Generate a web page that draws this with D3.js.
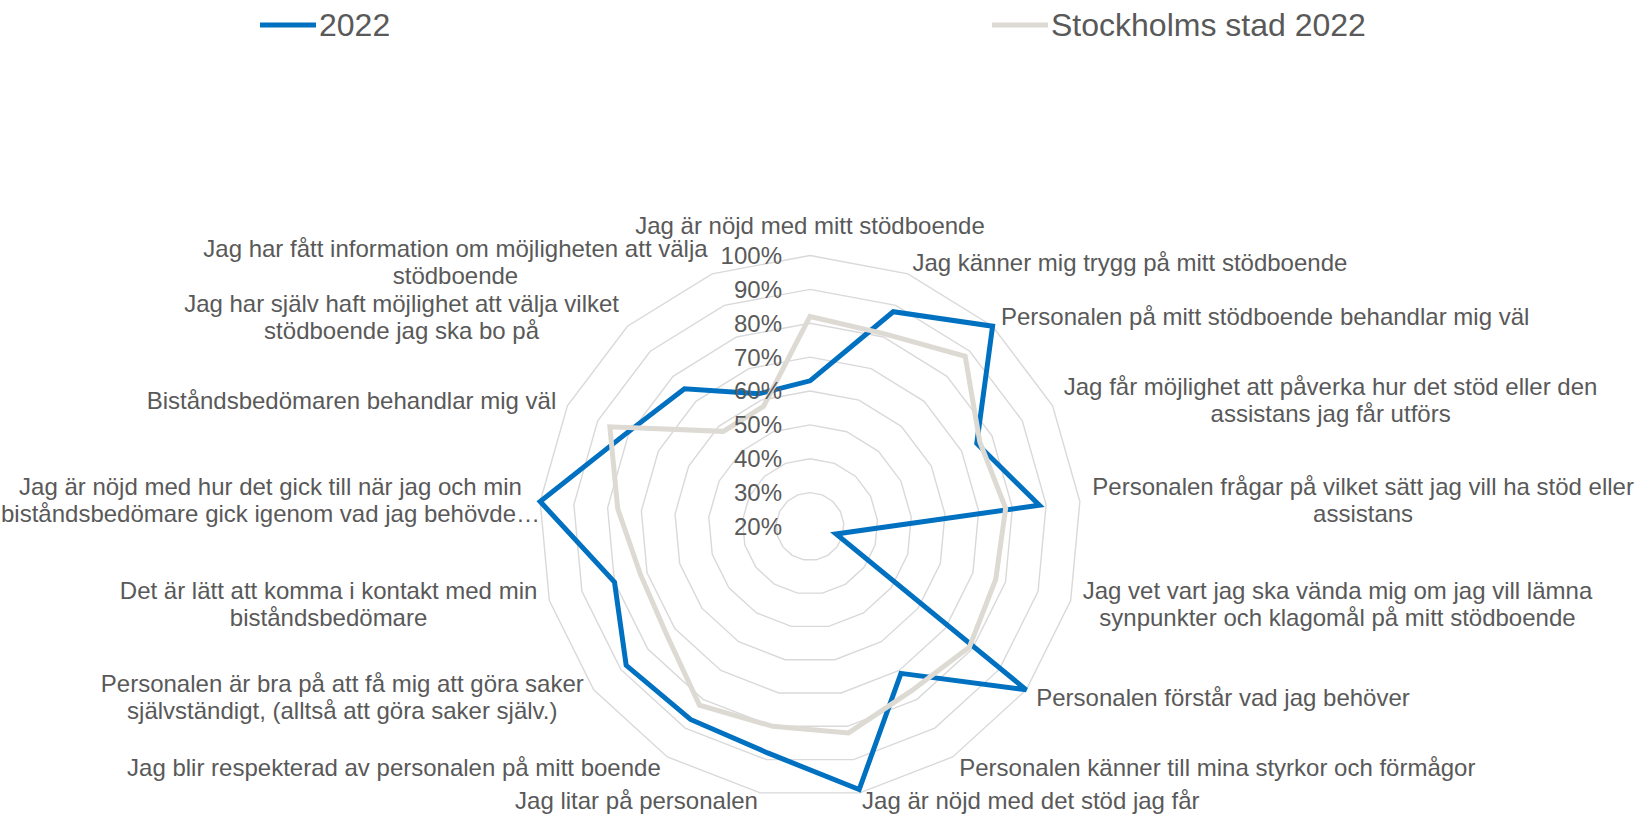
<!DOCTYPE html>
<html>
<head>
<meta charset="utf-8">
<script src="https://cdn.jsdelivr.net/npm/d3@7"></script>
<style>
  body { margin: 0; background: #fff; }
  svg text { font-family: "Liberation Sans", Arial, sans-serif; fill: #595959; }
</style>
</head>
<body>
<script>
// categories (line breaks as in the original labels)
const categories = [
  "Jag är nöjd med mitt stödboende",
  "Jag känner mig trygg på mitt stödboende",
  "Personalen på mitt stödboende behandlar mig väl",
  "Jag får möjlighet att påverka hur det stöd eller den\nassistans jag får utförs",
  "Personalen frågar på vilket sätt jag vill ha stöd eller\nassistans",
  "Jag vet vart jag ska vända mig om jag vill lämna\nsynpunkter och klagomål på mitt stödboende",
  "Personalen förstår vad jag behöver",
  "Personalen känner till mina styrkor och förmågor",
  "Jag är nöjd med det stöd jag får",
  "Jag litar på personalen",
  "Jag blir respekterad av personalen på mitt boende",
  "Personalen är bra på att få mig att göra saker\nsjälvständigt, (alltså att göra saker själv.)",
  "Det är lätt att komma i kontakt med min\nbiståndsbedömare",
  "Jag är nöjd med hur det gick till när jag och min\nbiståndsbedömare gick igenom vad jag behövde…",
  "Biståndsbedömaren behandlar mig väl",
  "Jag har själv haft möjlighet att välja vilket\nstödboende jag ska bo på",
  "Jag har fått information om möjligheten att välja\nstödboende"
];

const seriesNames = ["2022", "Stockholms stad 2022"];
const values2022 = [0.63, 0.88, 1.00, 0.75, 0.88, 0.28, 1.00, 0.71, 0.99, 0.88, 0.87, 0.88, 0.80, 1.00, 0.81, 0.75, 0.62];
const valuesStad = [0.82, 0.81, 0.88, 0.76, 0.78, 0.77, 0.79, 0.77, 0.82, 0.80, 0.82, 0.73, 0.72, 0.77, 0.86, 0.58, 0.58];
const tickValues = [0.2, 0.3, 0.4, 0.5, 0.6, 0.7, 0.8, 0.9, 1.0];

const W = 1637, H = 816;
const cx = 810, cy = 526.5, rMax = 271;
const colors = ["#0070C0", "#DDDAD4"];

const svg = d3.select("body").append("svg")
  .attr("width", W)
  .attr("height", H);

// scales
const r = d3.scaleLinear().domain([0.2, 1.0]).range([0, rMax]);
const angle = d3.scaleLinear().domain([0, categories.length]).range([0, 2 * Math.PI]);

const plot = svg.append("g").attr("transform", "translate(" + cx + "," + cy + ")");

// grid rings (polygons)
const radial = d3.lineRadial()
  .angle((d, i) => angle(i))
  .radius(d => r(d))
  .curve(d3.curveLinearClosed);

plot.selectAll(".ring")
  .data(tickValues.filter(t => t > 0.2))
  .enter().append("path")
  .attr("class", "ring")
  .attr("d", t => radial(categories.map(() => t)))
  .attr("fill", "none")
  .attr("stroke", "#D9D9D9")
  .attr("stroke-width", 1.4);

// series lines, second series drawn on top
[values2022, valuesStad].forEach((vals, k) => {
  plot.append("path")
    .attr("d", radial(vals))
    .attr("fill", "none")
    .attr("stroke", colors[k])
    .attr("stroke-width", 5)
    .attr("stroke-linejoin", "miter")
    .attr("stroke-miterlimit", 3);
});

// tick labels
plot.selectAll(".tick")
  .data(tickValues)
  .enter().append("text")
  .attr("class", "tick")
  .attr("x", -28)
  .attr("y", d => -r(d))
  .attr("dy", "0.35em")
  .attr("text-anchor", "end")
  .attr("font-size", 24)
  .text(d => d3.format(".0%")(d));

// category labels
const lineH = 26.5;
categories.forEach((c, i) => {
  const a = angle(i);
  const sx = Math.sin(a), sy = -Math.cos(a);
  const ax = cx + (rMax + 12.5) * sx;
  const ay = cy + (rMax + 12.5) * sy;
  const lines = c.split("\n");
  const t = svg.append("text")
    .attr("font-size", 24)
    .attr("text-anchor", "middle");
  const spans = lines.map(ln => t.append("tspan").text(ln));
  const boxW = d3.max(spans, s => s.node().getComputedTextLength());
  let left;
  if (Math.abs(sx) < 0.05) left = ax - boxW / 2;
  else if (sx > 0) left = ax;
  else left = ax - boxW;
  left = Math.max(1, Math.min(left, W - 1 - boxW));
  const blockH = lines.length * lineH;
  let midY = i === 0 ? ay - blockH / 2 - 4 : ay;
  midY = Math.min(midY, H - 15);
  spans.forEach((s, j) => {
    s.attr("x", left + boxW / 2)
      .attr("y", midY - (lines.length - 1) * lineH / 2 + j * lineH)
      .attr("dy", "0.35em");
  });
});

// legend
const legendX = [260, 992];
seriesNames.forEach((name, k) => {
  const g = svg.append("g").attr("transform", "translate(" + legendX[k] + ",25)");
  g.append("line")
    .attr("x1", 0).attr("x2", 56)
    .attr("stroke", colors[k])
    .attr("stroke-width", 5);
  g.append("text")
    .attr("x", 59)
    .attr("dy", "0.35em")
    .attr("font-size", 32)
    .text(name);
});
</script>
</body>
</html>
